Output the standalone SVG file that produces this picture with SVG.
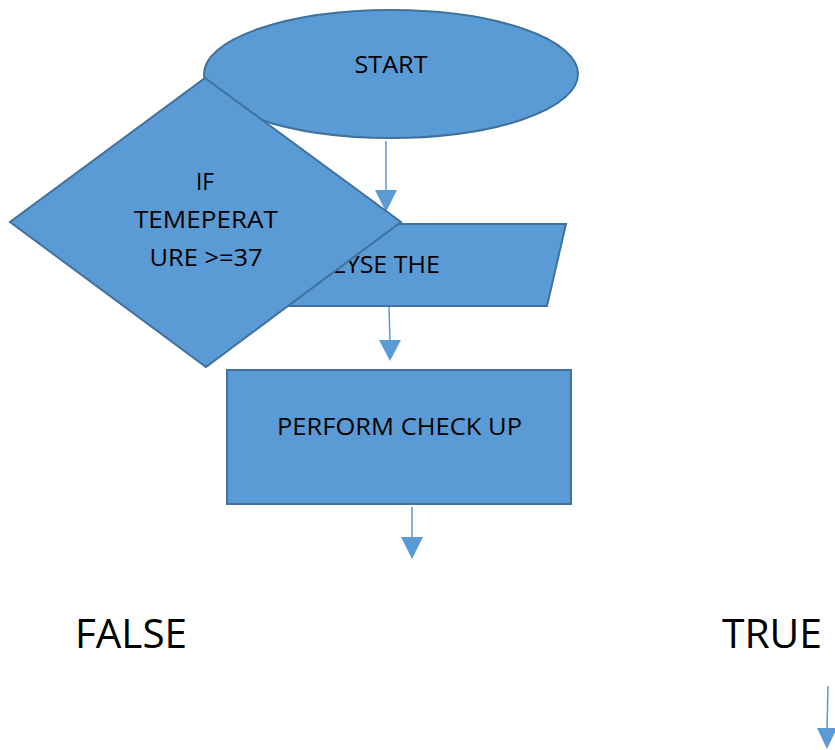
<svg xmlns="http://www.w3.org/2000/svg" width="835" height="750" viewBox="0 0 835 750">
<style>
.shape{fill:#5B9BD5;stroke:#41719C;stroke-width:2}
.lbl{font-family:"Open Sans","Liberation Sans",sans-serif;font-size:23px;fill:#000}
.big{font-family:"Open Sans","Liberation Sans",sans-serif;font-size:40px;fill:#000}
.ln{stroke:#5B9BD5;stroke-width:1.5;fill:none}
.hd{fill:#5B9BD5}
</style>
<rect width="835" height="750" fill="#fff"/>
<g id="start">
<ellipse class="shape" cx="391" cy="74" rx="187" ry="64"/>
<text class="lbl" x="391" y="73" text-anchor="middle" textLength="73" lengthAdjust="spacingAndGlyphs">START</text>
</g>
<g id="connectors">
<line class="ln" x1="386" y1="141" x2="386" y2="192"/>
<polygon class="hd" points="375,190 397,190 386,212"/>
<line class="ln" x1="389" y1="307" x2="390" y2="342"/>
<polygon class="hd" points="379,340 401,340 390,361"/>
<line class="ln" x1="412" y1="507" x2="412" y2="539"/>
<polygon class="hd" points="401,537 423,537 412,559"/>
<line class="ln" x1="828" y1="686" x2="827" y2="730"/>
<polygon class="hd" points="817,728 837,728 827,749"/>
</g>
<g id="analyse">
<polygon class="shape" points="250,224 566,224 547,306 231,306"/>
<text class="lbl" x="282" y="273" textLength="158" lengthAdjust="spacingAndGlyphs">ANALYSE THE</text>
</g>
<g id="checkup">
<rect class="shape" x="227" y="370" width="344" height="134"/>
<text class="lbl" x="277" y="435" textLength="245" lengthAdjust="spacingAndGlyphs">PERFORM CHECK UP</text>
</g>
<g id="decision">
<polygon class="shape" points="205,78 401,222 206,367 10,222"/>
<text class="lbl" x="205" y="190" text-anchor="middle" textLength="18" lengthAdjust="spacingAndGlyphs">IF</text>
<text class="lbl" x="206" y="228" text-anchor="middle" textLength="144" lengthAdjust="spacingAndGlyphs">TEMEPERAT</text>
<text class="lbl" x="206" y="266" text-anchor="middle" textLength="113" lengthAdjust="spacingAndGlyphs">URE &gt;=37</text>
</g>
<g id="false">
<text class="big" x="75" y="648" textLength="112" lengthAdjust="spacingAndGlyphs">FALSE</text>
</g>
<g id="true">
<text class="big" x="722" y="648" textLength="100" lengthAdjust="spacingAndGlyphs">TRUE</text>
</g>
</svg>
